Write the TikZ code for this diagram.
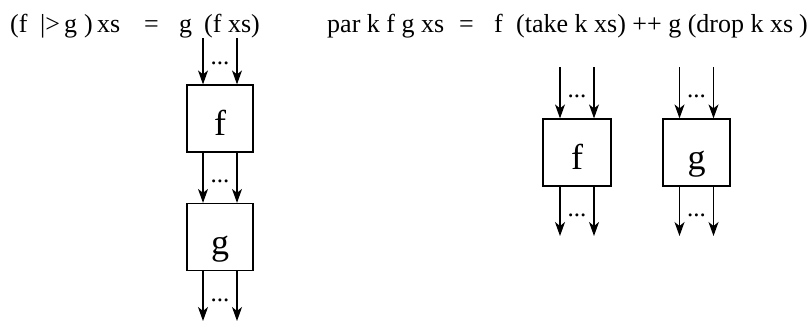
\documentclass[tikz,border=0pt]{standalone}
\usepackage{fontspec}
\setmainfont{Liberation Serif}
\usetikzlibrary{arrows.meta}
% place a piece of text at a fixed offset from the start of the line
\newcommand\putat[2]{\rlap{\hspace*{#1pt}#2}}
\begin{document}
\begin{tikzpicture}[x=1pt,y=-1pt,
  box/.style={draw,line width=1.2pt,minimum width=66pt,minimum height=67pt,
    inner sep=0pt,text height=50pt,text depth=16pt,font=\fontsize{36}{36}\selectfont},
  arr/.style={line width=1.2pt,-{Stealth[length=14pt,width=10pt,inset=4pt]}},
  dots/.style={font=\fontsize{25}{25}\selectfont,inner sep=0pt,anchor=base},
  formula/.style={font=\fontsize{26}{26}\selectfont,inner sep=0pt,anchor=base west}]
\useasboundingbox (0,0) rectangle (810,322);

% equations
\node[formula] (eqpipe) at (10,32)
  {\putat{0}{(f}\putat{30}{|>}\putat{54}{g}\putat{74}{)}\putat{87}{xs}%
   \putat{134}{=}\putat{169}{g}\putat{194}{(f xs)}\hspace*{255pt}};
\node[formula] (eqpar) at (327,32)
  {\putat{0}{par k f g xs}\putat{132}{=}\putat{167}{f}%
   \putat{189}{(take k xs) ++ g (drop k xs}\putat{472}{)}\hspace*{480pt}};

% sequential composition
\node[box] (lf) at (220,118.5) {f};
\node[box] (lg) at (220,237) {g};
\coordinate (lin) at (220,38);
\coordinate (lout) at (220,321);
\draw[arr] ([xshift=-17pt]lin) -- ([xshift=-17pt]lf.north);
\draw[arr] ([xshift=17pt]lin) -- ([xshift=17pt]lf.north);
\draw[arr] ([xshift=-17pt]lf.south) -- ([xshift=-17pt]lg.north);
\draw[arr] ([xshift=17pt]lf.south) -- ([xshift=17pt]lg.north);
\draw[arr] ([xshift=-17pt]lg.south) -- ([xshift=-17pt]lout);
\draw[arr] ([xshift=17pt]lg.south) -- ([xshift=17pt]lout);
\node[dots] (d1) at (220,64) {...};
\node[dots] (d2) at (220,182) {...};
\node[dots] (d3) at (220,301) {...};

% parallel composition
\node[box,minimum width=68pt] (rf) at (577,152.5) {f};
\node[box,minimum width=67pt] (rg) at (696.5,152.5) {g};
\coordinate (rfin) at (577,67);
\coordinate (rfout) at (577,236);
\coordinate (rgin) at (696.5,67);
\coordinate (rgout) at (696.5,236);
\draw[arr] ([xshift=-17pt]rfin) -- ([xshift=-17pt]rf.north);
\draw[arr] ([xshift=17pt]rfin) -- ([xshift=17pt]rf.north);
\draw[arr] ([xshift=-17pt]rf.south) -- ([xshift=-17pt]rfout);
\draw[arr] ([xshift=17pt]rf.south) -- ([xshift=17pt]rfout);
\draw[arr] ([xshift=-17pt]rgin) -- ([xshift=-17pt]rg.north);
\draw[arr] ([xshift=17pt]rgin) -- ([xshift=17pt]rg.north);
\draw[arr] ([xshift=-17pt]rg.south) -- ([xshift=-17pt]rgout);
\draw[arr] ([xshift=17pt]rg.south) -- ([xshift=17pt]rgout);
\node[dots] (d4) at (577,97) {...};
\node[dots] (d5) at (577,216) {...};
\node[dots] (d6) at (696.5,97) {...};
\node[dots] (d7) at (696.5,216) {...};
\end{tikzpicture}
\end{document}
